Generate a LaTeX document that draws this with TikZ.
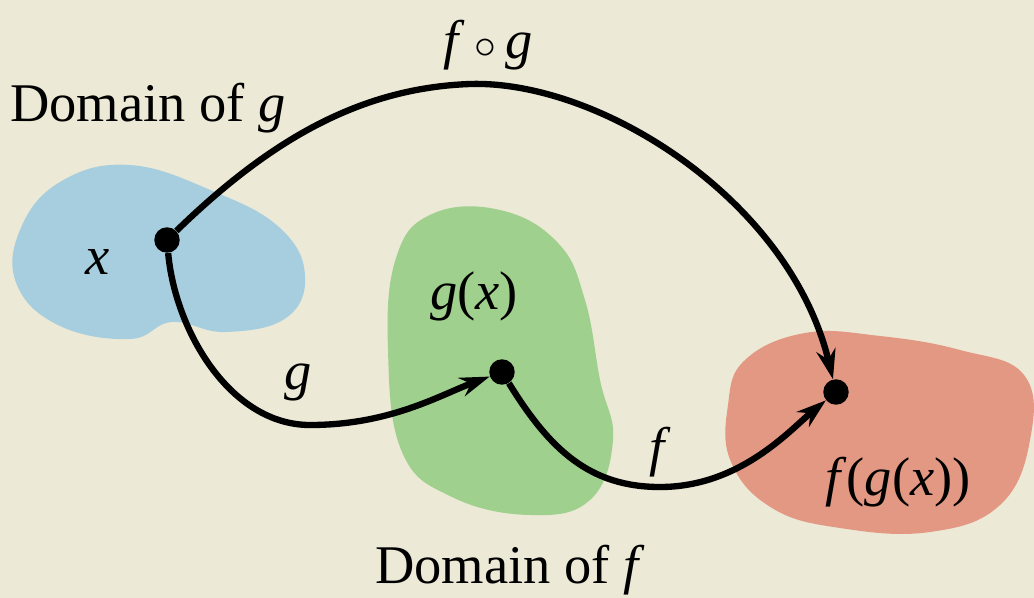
\documentclass[tikz,border=0pt]{standalone}
\usepackage{fontspec}
\setmainfont{Liberation Serif}
\usetikzlibrary{arrows.meta}
\definecolor{paper}{RGB}{236,233,214}
\definecolor{blobblue}{RGB}{166,206,222}
\definecolor{blobgreen}{RGB}{160,208,142}
\definecolor{blobred}{RGB}{226,152,130}
\tikzset{
  dot/.style={circle,fill=black,inner sep=0pt,minimum size=14.5pt},
  maparrow/.style={line width=3.6pt,-{Stealth[length=17pt,width=11pt]}},
  lbl/.style={font=\fontsize{31}{36}\selectfont,inner sep=0pt}
}
\begin{document}
\begin{tikzpicture}[x=0.02cm,y=-0.02cm]
\fill[paper] (0,0) rectangle (1034,598);
\useasboundingbox (0,0) rectangle (1034,598);

% the three domains
\fill[blobblue] plot[smooth cycle,tension=0.7] coordinates {(20,230) (60,182) (130,165) (215,192) (280,228) (305,275) (286,318) (225,332) (172,322) (130,339) (60,326) (17,285)};
\fill[blobgreen] plot[smooth cycle,tension=0.7] coordinates {(396,258) (432,214) (500,210) (558,243) (585,300) (600,380) (613,440) (590,500) (530,515) (452,497) (402,452) (388,350)};
\fill[blobred] plot[smooth cycle,tension=0.7] coordinates {(745,360) (805,333) (880,336) (960,350) (1024,375) (1030,440) (1000,505) (930,532) (840,528) (772,508) (731,462) (728,405)};

% points
\node[dot] (xpt) at (167,240) {};
\node[dot] (gxpt) at (502,372) {};
\node[dot] (fgxpt) at (836,392) {};
\coordinate (top) at (470,84);

% maps
\draw[maparrow] (xpt) .. controls (270,140) and (360,88) .. (top) .. controls (600,80) and (790,200) .. (fgxpt);
\draw[maparrow] (xpt) .. controls (175,330) and (230,425) .. (310,425) .. controls (390,425) and (440,395) .. (gxpt);
\draw[maparrow] (gxpt) .. controls (550,450) and (590,487) .. (660,487) .. controls (740,487) and (790,430) .. (fgxpt);

% labels
\node[lbl] (fog) at (488,45) {\textit{f}\,$\circ$\,\textit{g}};
\node[lbl,anchor=west] (domg) at (10,108) {Domain of \textit{g}};
\node[lbl] (xlbl) at (98,262) {\textit{x}};
\node[lbl] (gxlbl) at (474,296) {\textit{g}(\textit{x})};
\node[lbl] (glbl) at (298,382) {\textit{g}};
\node[lbl] (flbl) at (660,452) {\textit{f}};
\node[lbl] (fgxlbl) at (898,482) {\textit{f}(\textit{g}(\textit{x}))};
\node[lbl] (domf) at (510,570) {Domain of \textit{f}};
\end{tikzpicture}
\end{document}
